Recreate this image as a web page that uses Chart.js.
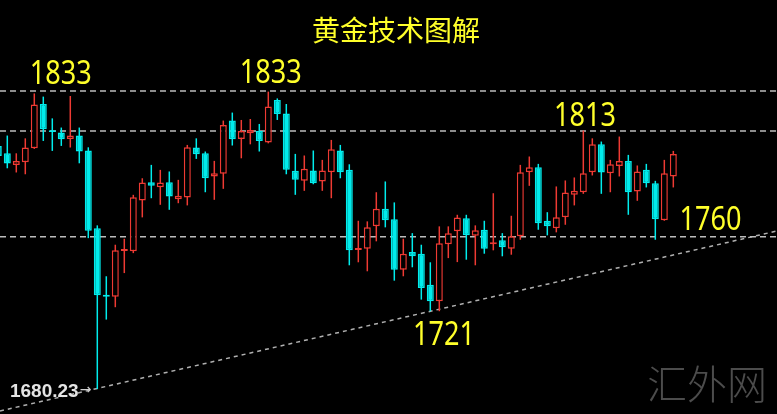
<!DOCTYPE html>
<html><head><meta charset="utf-8">
<script src="https://cdn.jsdelivr.net/npm/chart.js@4/dist/chart.umd.min.js"></script>
<style>html,body{margin:0;padding:0;background:#000;overflow:hidden}#wrap{width:777px;height:414px;position:relative;background:#000}</style>
</head><body><div id="wrap"><canvas id="c" width="777" height="414"></canvas></div>
<script>
// candle index (time order)
const candleIdx = [0,1,2,3,4,5,6,7,8,9,10,11,12,13,14,15,16,17,18,19,20,21,22,23,24,25,26,27,28,29,30,31,32,33,34,35,36,37,38,39,40,41,42,43,44,45,46,47,48,49,50,51,52,53,54,55,56,57,58,59,60,61,62,63,64,65,66,67,68,69,70,71,72,73,74,75];
const openP  = [1805.5,1801.8,1796,1797.3,1804.3,1826.5,1813.3,1812.2,1809,1810.7,1803.2,1764.3,1731,1730,1752.8,1752.7,1778.2,1787.3,1784.8,1787.3,1778.8,1779.7,1804.7,1801.8,1790.2,1791.5,1818.2,1809,1811.8,1813,1807.2,1828.5,1821.8,1793,1788,1793.2,1787.7,1792.3,1803.2,1793.5,1753.3,1754,1765.2,1774,1768.8,1743.5,1752.3,1751.5,1736,1727.7,1756.3,1762.7,1769.3,1760.5,1763.5,1756.3,1758.2,1754,1760.2,1792.3,1794.8,1768,1764.3,1769.8,1781,1782.3,1792.3,1806.3,1791.8,1795.5,1798,1782.7,1793.5,1786.8,1768.2,1790.2];
const highP  = [1806.8,1810.7,1801.8,1809.3,1831.8,1830.2,1819.3,1814.7,1830.5,1814.7,1804.8,1765.7,1740.2,1756,1759,1781,1789.3,1796,1793.5,1792.7,1788.5,1806,1809.3,1802.7,1798,1818.2,1822.2,1818.5,1819,1816.5,1832.7,1829.3,1826.5,1801.5,1800.7,1803.2,1798.5,1808.5,1806,1796.3,1768,1767.7,1782.3,1787.7,1777.2,1759,1761.8,1756,1747.2,1765.2,1765.2,1771,1771,1765.7,1768,1781.8,1761.8,1770.5,1796,1800.2,1796.5,1772.3,1785.2,1788.2,1789.7,1813.2,1809.3,1807.7,1798.5,1810.2,1801,1795.7,1796.5,1788,1798.5,1803];
const lowP   = [1799.3,1794.3,1792.2,1791.3,1804,1808,1803,1805.5,1804.7,1796.8,1759.3,1683.7,1718.5,1724.7,1741.8,1751.8,1769.7,1779.3,1776,1773.5,1776.8,1775.7,1799,1782.3,1778.5,1784,1805.7,1799.3,1806.3,1802.7,1806.8,1818.5,1791.3,1781,1783,1786.3,1783,1779.3,1789.3,1745.7,1747.2,1742.7,1757.7,1764.7,1738,1740.2,1744.7,1728.5,1722.7,1722.7,1749.3,1747.3,1748.5,1745.7,1751.5,1753.2,1750.2,1751,1758.5,1785.5,1763.5,1760.7,1762.2,1766,1775.7,1781.5,1790.7,1781.5,1782.3,1790.2,1771,1778,1784.7,1758.5,1768,1784.7];
const closeP = [1800.5,1796.7,1798,1804.7,1826.3,1813.8,1812.5,1808.8,1810.7,1802.7,1763,1730.7,1730,1753.2,1753.8,1779.8,1787.2,1785.5,1787.2,1780.2,1780.5,1804.8,1801.3,1789.3,1791.8,1816,1808.8,1813,1813.5,1808,1825.2,1821.5,1793.5,1788.5,1794,1786.8,1793.2,1803.8,1792.3,1753.2,1754.3,1764.8,1774,1768.2,1743.5,1751.5,1750.2,1734.3,1727.7,1756.8,1761.8,1769.7,1760.7,1763.2,1754,1757.3,1754.7,1760.2,1792.3,1794.8,1766.8,1765.2,1769.8,1782.2,1783,1791.8,1806.3,1792.2,1796.3,1798,1782.3,1792.7,1786.8,1768.8,1791.8,1801.5];
// horizontal reference levels
const levelPrices = [1833, 1813, 1760];
// rising trend line end points (index, price)
const trendIdx = [0.19, 86.52];
const trendPrice = [1672.7, 1762.9];
// annotation labels (index, price at text baseline)
const labelText  = ['1833','1833','1813','1760','1721'];
const labelIdx   = [6.94, 30.28, 65.19, 79.13, 49.52];
const labelPrice = [1836.5, 1837.2, 1815.6, 1763.4, 1705.7];
const lowLabel = '1680.23';
const lowLabelIdx = 1.3, lowLabelPrice = 1679.5;
const titleText = '黄金技术图解';
const watermark = '汇外网';

const X_MIN = 0.19, X_MAX = 86.52, Y_MIN = 1671.2, Y_MAX = 1878.6;
const RED = '#ee3a33', CYAN = '#00ecec', YEL = '#ffff2a', DASH = '#bcbcbc';
const isUp = i => closeP[i] >= openP[i];

const datasets = [];
datasets.push({
  type:'bar', label:'body', order:1, grouped:false,
  data: candleIdx.map((x,i)=>({x, y:[openP[i], closeP[i]]})),
  backgroundColor: ctx => isUp(ctx.dataIndex) ? '#000' : CYAN,
  borderColor: ctx => isUp(ctx.dataIndex) ? RED : CYAN,
  borderWidth:1.5, borderSkipped:false, barThickness:7, inflateAmount:0
});
datasets.push({
  type:'bar', label:'wick', order:2, grouped:false,
  data: candleIdx.map((x,i)=>({x, y:[lowP[i], highP[i]]})),
  backgroundColor: ctx => isUp(ctx.dataIndex) ? RED : CYAN,
  borderWidth:0, barThickness:1.5, inflateAmount:0
});
levelPrices.forEach(p => datasets.push({
  type:'line', order:3, data:[{x:X_MIN,y:p},{x:X_MAX,y:p}],
  borderColor:DASH, borderWidth:1.5, borderDash:[6,4], pointRadius:0
}));
datasets.push({
  type:'line', order:3, data: trendIdx.map((x,i)=>({x, y:trendPrice[i]})),
  borderColor:'#b0b0b0', borderWidth:1.5, borderDash:[4,4], pointRadius:0
});

const textPlugin = {
  id:'texts',
  beforeDraw(chart){
    const c = chart.ctx; c.save(); c.fillStyle='#000'; c.fillRect(0,0,chart.width,chart.height); c.restore();
  },
  afterDraw(chart){
    const c = chart.ctx, xs = chart.scales.x, ys = chart.scales.y;
    c.save();
    // title
    c.fillStyle = YEL; c.textAlign='center'; c.textBaseline='middle';
    c.font = '28px "Noto Sans CJK SC"';
    c.fillText(titleText, 396, 30);
    // price labels
    c.textBaseline='alphabetic';
    labelText.forEach((t,i)=>{
      const px = xs.getPixelForValue(labelIdx[i]), py = ys.getPixelForValue(labelPrice[i]);
      c.save(); c.translate(px, py); c.scale(0.82,1);
      c.font = '33px "Noto Sans"'; c.fillStyle = YEL; c.textAlign='center';
      c.fillText(t, 0, 0); c.restore();
    });
    // low label
    const lx = xs.getPixelForValue(lowLabelIdx), ly = ys.getPixelForValue(lowLabelPrice);
    c.font = 'bold 19px "Liberation Sans"'; c.fillStyle='#e4e4e4'; c.textAlign='left';
    c.fillText(lowLabel, lx, ly);
    const w = c.measureText(lowLabel).width;
    c.font = '14px "DejaVu Sans"'; c.fillStyle='#cfcfcf';
    c.fillText('→', lx + w + 1, ly - 3);
    // watermark
    c.font = '300 40px "Noto Sans CJK SC"'; c.fillStyle='#4c4c4c'; c.textAlign='center'; c.textBaseline='middle';
    c.fillText(watermark, 707, 384);
    c.restore();
  }
};

new Chart(document.getElementById('c'), {
  type:'bar',
  data:{ datasets },
  options:{
    responsive:false, animation:false, devicePixelRatio:1,
    layout:{padding:0},
    plugins:{legend:{display:false}, tooltip:{enabled:false}, title:{display:false}},
    scales:{
      x:{type:'linear', min:X_MIN, max:X_MAX, offset:false, display:false, grid:{display:false}},
      y:{type:'linear', min:Y_MIN, max:Y_MAX, display:false, grid:{display:false}}
    }
  },
  plugins:[textPlugin]
});
</script></body></html>
